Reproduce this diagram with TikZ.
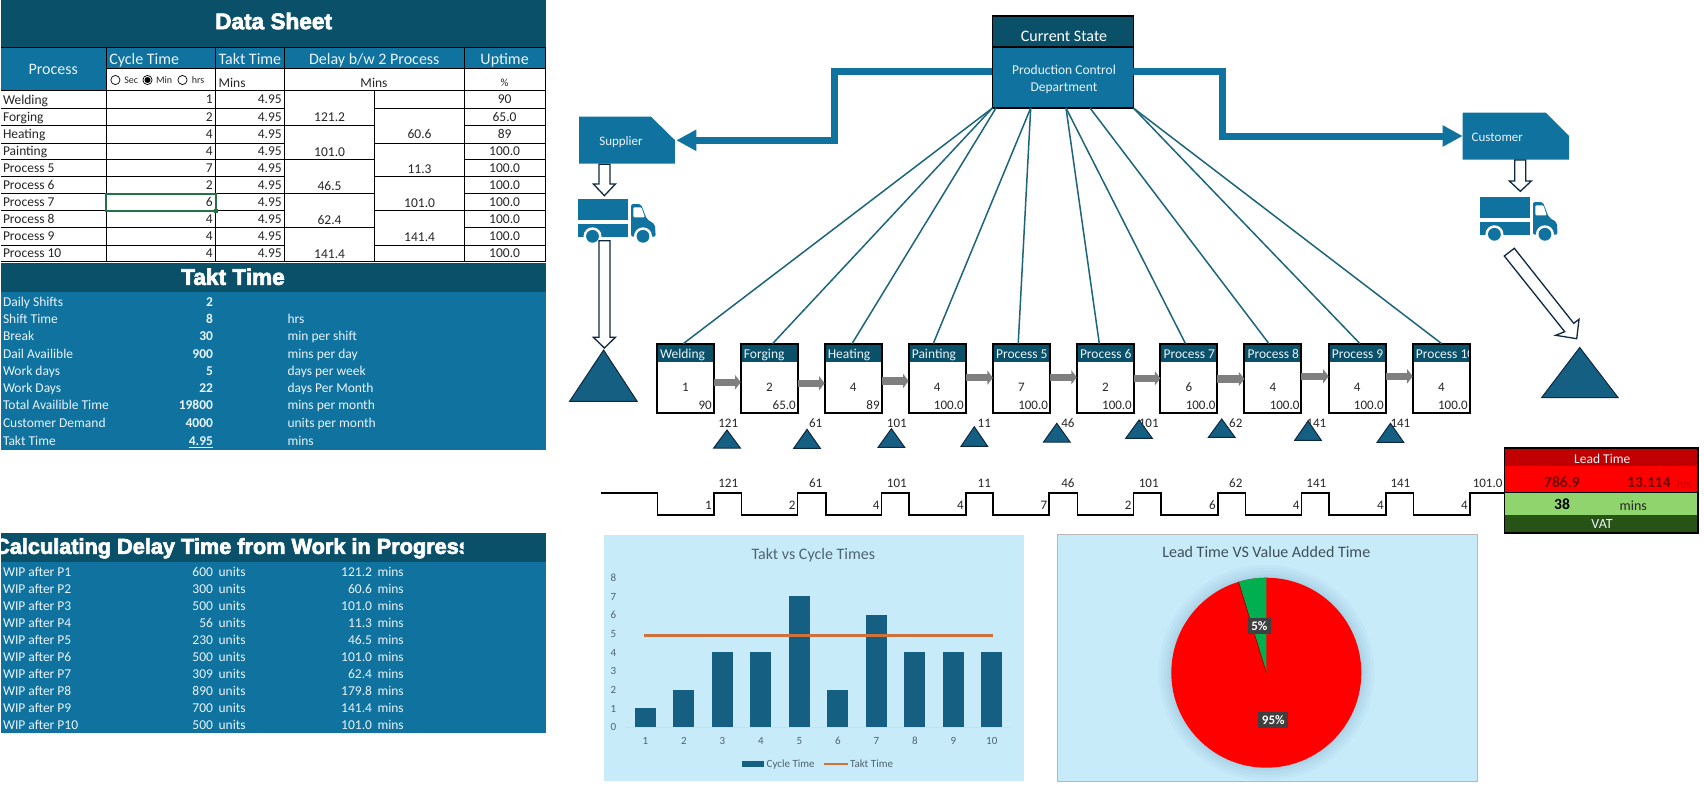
\documentclass[tikz,border=0pt]{standalone}
\usepackage{fontspec}
\setmainfont{Carlito}
\newfontfamily\heavy{Liberation Sans}[BoldFeatures={FakeBold=3}]
\usetikzlibrary{arrows.meta}
\definecolor{bandD}{HTML}{0B5069}
\definecolor{midB}{HTML}{0F729F}
\definecolor{triB}{HTML}{156082}
\definecolor{navy}{HTML}{0E2841}
\definecolor{chartBG}{HTML}{C8EBFA}
\definecolor{ink}{HTML}{262626}
\definecolor{pale}{HTML}{EAF4F8}
\definecolor{axisTxt}{HTML}{4F6470}
\definecolor{orangeL}{HTML}{D0703A}
\definecolor{grayA}{HTML}{7F7F7F}
\definecolor{leadD}{HTML}{C00000}
\definecolor{leadG}{HTML}{8FD46C}
\definecolor{leadK}{HTML}{275317}
\definecolor{fanL}{HTML}{1D6579}
\definecolor{selG}{HTML}{217346}
\definecolor{pieG}{HTML}{00B050}
\tikzset{
  txt/.style={inner sep=0pt,outer sep=0pt,yshift=-1pt,execute at begin node={\rule[-.18em]{0pt}{.86em}}},
  cell/.style={txt,font=\fontsize{13.5}{14}\selectfont,text=ink},
  hdr/.style={txt,font=\fontsize{16}{17}\selectfont,text=pale},
  wip/.style={txt,font=\fontsize{13.5}{14}\selectfont,text=pale},
  bandT/.style={txt,text=white,font=\fontsize{22.6}{24}\selectfont\heavy\bfseries},
  pboxn/.style={inner sep=0pt,outer sep=0pt,fill=white,minimum width=57pt,minimum height=69.3pt},
  hollow/.style={draw=navy,fill=white,line width=1.3pt,line join=miter},
  inv/.style={draw=navy,fill=triB,line width=1pt,line join=miter},
  thick conn/.style={line width=7pt,draw=midB,line join=miter,-{Triangle[length=20pt,width=20pt]}},
  flow/.style={line width=7.5pt,draw=grayA,-{Triangle[length=5.5pt,width=14pt]}},
  fan/.style={line width=1.5pt,draw=fanL},
  num/.style={txt,font=\fontsize{13}{14}\selectfont,text=ink},
  axl/.style={txt,font=\fontsize{11}{12}\selectfont,text=axisTxt},
  pielab/.style={inner sep=3.5pt,fill=black!75,text=white,font=\fontsize{13}{14}\selectfont\bfseries},
}
\newcommand{\trucksym}[2]{%
  \begin{scope}[shift={(#1,#2)}]
    \fill[midB] (0,0) rectangle (49.7,21);
    \fill[midB] (0,24.7) rectangle (49.7,37.4);
    \fill[midB,rounded corners=2pt] (52.7,4.7) -- (62.5,4.7) -- (68.5,20) -- (76.5,25) -- (77.3,37.4) -- (52.7,37.4) -- cycle;
    \fill[white,rounded corners=1pt] (55,8) -- (63,8) -- (66.5,18) -- (55,18) -- cycle;
    \fill[white] (14.1,37) circle[radius=9pt];
    \fill[white] (64.6,37) circle[radius=9pt];
    \fill[midB] (14.1,37) circle[radius=6.4pt];
    \fill[midB] (64.6,37) circle[radius=6.4pt];
  \end{scope}}
\newcommand{\vhollow}[4]{% x, ytop, yheadstart, ytip
  \draw[hollow] (#1-5.5,#2) -- (#1+5.5,#2) -- (#1+5.5,#3) -- (#1+11,#3) -- (#1,#4) -- (#1-11,#3) -- (#1-5.5,#3) -- cycle;}
\begin{document}
\begin{tikzpicture}[x=1pt,y=-1pt]
\useasboundingbox (0,0) rectangle (1704,790);
\fill[white] (0,0) rectangle (1704,790);

%% ---------- data sheet ----------
\fill[bandD] (1,0) rectangle (546,47.3);
\node[bandT] (dstitle) at (273.6,22) {Data Sheet};
\fill[midB] (1,47.3) rectangle (546,68.7);
\fill[midB] (1,68.7) rectangle (106.5,90.7);
\node[hdr,anchor=center] (hProc) at (53.2,69.7) {Process};
\node[hdr,anchor=west] (hCyc) at (109.3,59) {Cycle Time};
\node[hdr,anchor=west] (hTak) at (218.6,59) {Takt Time};
\node[hdr] (hDel) at (374.3,59) {Delay b/w 2 Process};
\node[hdr] (hUp) at (504.6,59) {Uptime};
\draw[black,line width=.7pt] (115.4,80) circle[radius=4.6pt];
\draw[black,line width=.7pt,fill=white] (147.5,80) circle[radius=4.6pt];
\fill[black] (147.5,80) circle[radius=3pt];
\draw[black,line width=.7pt] (182.5,80) circle[radius=4.6pt];
\node[txt,anchor=west,font=\fontsize{10}{11}\selectfont,text=ink] (rS) at (124.3,79.5) {Sec};
\node[txt,anchor=west,font=\fontsize{10}{11}\selectfont,text=ink] (rM) at (156,79.5) {Min};
\node[txt,anchor=west,font=\fontsize{10}{11}\selectfont,text=ink] (rH) at (191.8,79.5) {hrs};
\node[cell,anchor=west] (uT) at (218.6,82.7) {Mins};
\node[cell] (uD) at (374,82.7) {Mins};
\node[cell,font=\fontsize{11}{12}\selectfont] (uU) at (504.6,82.7) {\%};
\foreach \nm/\ct/\up/\yy [count=\i] in {
  Welding/1/90/99.6, Forging/2/65.0/117.1, Heating/4/89/134.4, Painting/4/100.0/151.5,
  Process 5/7/100.0/168.3, Process 6/2/100.0/185.3, Process 7/6/100.0/202.3,
  Process 8/4/100.0/219.3, Process 9/4/100.0/236.5, Process 10/4/100.0/253.5}{
  \node[cell,anchor=west] (rowN\i) at (3,\yy) {\nm};
  \node[cell,anchor=east] (rowC\i) at (212.8,\yy) {\ct};
  \node[cell,anchor=east] (rowT\i) at (281.8,\yy) {4.95};
  \node[cell] (rowU\i) at (504.6,\yy) {\up};
}
\foreach \v/\yy [count=\i] in {121.2/117.3,101.0/151.7,46.5/185.7,62.4/219.7,141.4/253.7}
  \node[cell] (delA\i) at (329.6,\yy) {\v};
\foreach \v/\yy [count=\i] in {60.6/134.3,11.3/168.7,101.0/202.7,141.4/236.7}
  \node[cell] (delB\i) at (419.6,\yy) {\v};
\begin{scope}[black,line width=1pt]
  \foreach \yy in {90.7,108.3,125.7,143,159.7,176.7,193.7,210.7,227.7,245,261.7}{
    \draw (1,\yy) -- (284.6,\yy);
    \draw (464.3,\yy) -- (545.7,\yy);}
  \foreach \yy in {90.7,125.7,159.7,193.7,227.7,261.7}
    \draw (284.6,\yy) -- (374,\yy);
  \foreach \yy in {90.7,108.3,143,176.7,210.7,245,261.7}
    \draw (374,\yy) -- (464.3,\yy);
  \draw (1,47.3) -- (546,47.3);
  \draw (106.5,68.7) -- (546,68.7);
  \foreach \xx in {106.5,215.7,284.6,464.3,545.7}
    \draw (\xx,47.3) -- (\xx,261.7);
  \draw (374,90.7) -- (374,261.7);
\end{scope}
\draw[selG,line width=2pt] (105.7,193.7) rectangle (216,210.7);
\fill[selG] (214,208.7) rectangle (218,212.7);

%% ---------- takt time ----------
\fill[midB] (1,292) rectangle (546,450);
\fill[bandD] (1,263.3) rectangle (546,292);
\node[bandT] (tktitle) at (233,277.7) {Takt Time};
\foreach \a/\b/\c/\yy [count=\i] in {
  Daily Shifts/2//301.7, Shift Time/8/hrs/319, Break/30/min per shift/336,
  Dail Availible/900/mins per day/353.7, Work days/5/days per week/371,
  Work Days/22/days Per Month/388, Total Availible Time/19800/mins per month/405,
  Customer Demand/4000/units per month/422.7}{
  \node[wip,anchor=west] (tkA\i) at (3,\yy) {\a};
  \node[wip,anchor=east,font=\fontsize{13.5}{14}\selectfont\bfseries] (tkB\i) at (213,\yy) {\b};
  \node[wip,anchor=west] (tkC\i) at (287.5,\yy) {\c};
}
\node[wip,anchor=west] (tkA9) at (3,441) {Takt Time};
\node[wip,anchor=east,font=\fontsize{13.5}{14}\selectfont\bfseries] (tkB9) at (213,441) {\underline{4.95}};
\node[wip,anchor=west] (tkC9) at (287.5,441) {mins};

%% ---------- WIP ----------
\fill[midB] (1,561.7) rectangle (546,732.7);
\fill[bandD] (1,533.3) rectangle (546,561.7);
\begin{scope}
  \clip (1,533.3) rectangle (463.6,561.7);
  \node[bandT,font=\fontsize{21.7}{24}\selectfont\heavy\bfseries] (wiptitle) at (232.5,547.3) {Calculating Delay Time from Work in Progress};
\end{scope}
\foreach \a/\b/\c/\yy [count=\i] in {
  P1/600/121.2/571.7, P2/300/60.6/589, P3/500/101.0/606, P4/56/11.3/623, P5/230/46.5/640,
  P6/500/101.0/657, P7/309/62.4/674, P8/890/179.8/691, P9/700/141.4/708, P10/500/101.0/725}{
  \node[wip,anchor=west] (wA\i) at (3,\yy) {WIP after \a};
  \node[wip,anchor=east] (wB\i) at (213,\yy) {\b};
  \node[wip,anchor=west] (wC\i) at (218.6,\yy) {units};
  \node[wip,anchor=east] (wD\i) at (372,\yy) {\c};
  \node[wip,anchor=west] (wE\i) at (377.5,\yy) {mins};
}

%% ---------- control box, supplier, customer ----------
\node[inner sep=0pt,outer sep=0pt,minimum width=141pt,minimum height=91.7pt,fill=midB] (pc) at (1062.9,61.85) {};
\fill[bandD] (pc.north west) rectangle (1133.4,46.7);
\draw[black,line width=1.8pt] (pc.north west) rectangle (pc.south east);
\draw[black,line width=1.8pt] (992.4,46.7) -- (1133.4,46.7);
\node[txt,text=white,font=\fontsize{16}{17}\selectfont] (pcT) at (1064,36.7) {Current State};
\node[txt,text=pale,font=\fontsize{13.5}{14}\selectfont] (pcA) at (1064,70) {Production Control};
\node[txt,text=pale,font=\fontsize{13.5}{14}\selectfont] (pcB) at (1064,87) {Department};

\fill[midB] (579.1,116.7) -- (651,116.7) -- (674.8,140) -- (674.8,163.7) -- (579.1,163.7) -- cycle;
\node[txt,text=pale,font=\fontsize{13}{14}\selectfont] (sup) at (621,140.7) {Supplier};
\coordinate (supTip) at (676.3,140.3);
\fill[midB] (1462.7,112.7) -- (1545.7,112.7) -- (1569,136) -- (1569,159.7) -- (1462.7,159.7) -- cycle;
\node[txt,anchor=west,text=pale,font=\fontsize{13}{14}\selectfont] (cus) at (1471.7,137) {Customer};
\coordinate (cusTip) at (1462.7,136);

\draw[thick conn] (pc.west |- 0,71.3) -- (834,71.3) -- (834,140.3) -- (supTip);
\draw[thick conn] (pc.east |- 0,71.7) -- (1222.3,71.7) -- (1222.3,136) -- (cusTip);

%% ---------- trucks, hollow arrows, big triangles ----------
\trucksym{578.4}{199.3}
\trucksym{1480.3}{197.3}
\vhollow{604.4}{164.3}{184}{195.7}
\vhollow{1520.3}{160}{181}{191.3}
\vhollow{604.4}{240.7}{337.3}{348}
\draw[hollow] (1504.3,256) -- (1514.3,248.3) -- (1573.7,323.3) -- (1579,319.3) -- (1576.7,338.7) -- (1555.7,335.3) -- (1564.7,331.7) -- cycle;
\draw[inv] (569.6,401.3) -- (603.6,350) -- (637.1,401.3) -- cycle;
\draw[inv] (1541.7,397.5) -- (1579.7,347.5) -- (1618,397.5) -- cycle;

%% ---------- process boxes ----------
\foreach \nm/\ct/\up/\xl/\ft [count=\i] in {
  Welding/1/90/656.8/683.2, Forging/2/65.0/740.7/772.5, Heating/4/89/824.6/852,
  Painting/4/100.0/908.6/933.2, Process 5/7/100.0/992.9/1018.2, Process 6/2/100.0/1076.8/1099.3,
  Process 7/6/100.0/1160.4/1185.5, Process 8/4/100.0/1244.4/1269, Process 9/4/100.0/1328.6/1360,
  Process 10/4/100.0/1412.7/1441.7}{
  \node[pboxn] (p\i) at (\xl+28.5,378.35) {};
  \coordinate (top\i) at (\ft,343.7);
  \begin{scope}
    \clip (\xl,343.7) rectangle (\xl+57,413);
    \fill[bandD] (\xl,343.7) rectangle (\xl+57,362);
    \node[txt,anchor=west,text=pale,font=\fontsize{13.5}{14}\selectfont] (ph\i) at (\xl+3.2,354) {\nm};
  \end{scope}
  \draw[black,line width=2pt] (p\i.south west) rectangle (p\i.north east);
  \node[num] (pc\i) at (\xl+28.6,387.7) {\ct};
  \node[num,anchor=east] (pu\i) at (\xl+55,405) {\up};
}

%% ---------- information fan ----------
\coordinate (fA) at (992.5,108);
\coordinate (fB) at (996,108);
\coordinate (fC) at (1030.7,108);
\coordinate (fD) at (1066,108);
\coordinate (fE) at (1090,108);
\coordinate (fF) at (1133.3,108);
\foreach \s/\i in {fA/1,fA/2,fB/3,fC/4,fC/5,fD/6,fD/7,fE/8,fF/9,fF/10}
  \draw[fan] (\s) -- (top\i);

%% ---------- flow arrows ----------
\foreach \a/\b/\yy in {1/2/382.3,2/3/383.3,3/4/381,4/5/377.7,5/6/377.3,6/7/378.3,7/8/379,8/9/376.3,9/10/376.3}
  \draw[flow] (p\a.east |- 0,\yy) -- (p\b.west |- 0,\yy);

%% ---------- inventory triangles ----------
\foreach \cx/\ap/\ba/\lx/\lb [count=\i] in {
  727/430/448/728.2/121, 807/429.3/448.3/815.7/61, 891.4/428.7/447.3/896.8/101,
  974.3/426.7/446.3/984.3/11, 1056.8/423.3/442/1067.9/46, 1139/420/438.3/1148.7/101,
  1221.7/419/437.3/1235.8/62, 1308/421/440.3/1316.3/141, 1390.4/423.3/442.3/1400.4/141}{
  \node[num] (il\i) at (\lx,423) {\lb};
  \draw[inv] (\cx-13.3,\ba) -- (\cx,\ap) -- (\cx+13.3,\ba) -- cycle;
}

%% ---------- time line ----------
\coordinate (tlS) at (601,492.7);
\coordinate (tlE) at (1504.4,492.7);
\draw[black,line width=1.8pt,line join=miter] (tlS) -- (657.5,492.7) -- (657.5,514.7) -- (713.6,514.7) -- (713.6,492.7)
  -- (741.4,492.7) -- (741.4,514.7) -- (797.5,514.7) -- (797.5,492.7)
  -- (825.7,492.7) -- (825.7,514.7) -- (881.4,514.7) -- (881.4,492.7)
  -- (909.3,492.7) -- (909.3,514.7) -- (965.7,514.7) -- (965.7,492.7)
  -- (993.2,492.7) -- (993.2,514.7) -- (1049.3,514.7) -- (1049.3,492.7)
  -- (1077.5,492.7) -- (1077.5,514.7) -- (1133.4,514.7) -- (1133.4,492.7)
  -- (1161.3,492.7) -- (1161.3,514.7) -- (1217.6,514.7) -- (1217.6,492.7)
  -- (1245.5,492.7) -- (1245.5,514.7) -- (1301.4,514.7) -- (1301.4,492.7)
  -- (1329.3,492.7) -- (1329.3,514.7) -- (1385.6,514.7) -- (1385.6,492.7)
  -- (1413.5,492.7) -- (1413.5,514.7) -- (1469.7,514.7) -- (1469.7,492.7) -- (tlE);
\foreach \x/\t [count=\i] in {728.2/121,815.7/61,896.8/101,984.3/11,1067.9/46,1148.7/101,1235.8/62,1316.3/141,1400.4/141,1487.6/101.0}
  \node[num] (tlT\i) at (\x,483.7) {\t};
\foreach \x/\t [count=\i] in {713.6/1,797.5/2,881.4/4,965.7/4,1049.3/7,1133.4/2,1217.6/6,1301.4/4,1385.6/4,1469.7/4}
  \node[num,anchor=east] (tlB\i) at (\x-2,505.3) {\t};

%% ---------- lead time box ----------
\fill[leadD] (1504.4,448.3) rectangle (1697.7,466);
\fill[red] (1504.4,466) rectangle (1697.7,492.7);
\fill[leadG] (1504.4,492.7) rectangle (1697.7,515);
\fill[leadK] (1504.4,515) rectangle (1697.7,533);
\draw[black,line width=1.8pt] (1504.4,448.3) rectangle (1697.7,533);
\draw[black,line width=1.5pt] (1504.4,492.7) -- (1697.7,492.7);
\node[txt,text=pale,font=\fontsize{13.5}{14}\selectfont] (lt1) at (1602.3,459) {Lead Time};
\node[txt,text=leadD!55!black,font=\fontsize{15.5}{16}\selectfont\bfseries] (lt2) at (1562,483) {786.9};
\node[txt,text=leadD!55!black,font=\fontsize{15.5}{16}\selectfont\bfseries] (lt3) at (1648.9,483) {13.114};
\node[txt,text=leadD,font=\fontsize{12}{13}\selectfont] (lt4) at (1684,484) {hrs};
\node[txt,text=black,font=\fontsize{15.5}{16}\selectfont\bfseries] (lt5) at (1562,504.7) {38};
\node[txt,text=ink,font=\fontsize{14}{15}\selectfont] (lt6) at (1633.2,506) {mins};
\node[txt,text=pale,font=\fontsize{14}{15}\selectfont] (lt7) at (1602,524.3) {VAT};

%% ---------- bar chart ----------
\fill[chartBG] (604,535) rectangle (1024,780.7);
\node[txt,text=axisTxt,font=\fontsize{16}{17}\selectfont] (c1t) at (813.3,554) {Takt vs Cycle Times};
\foreach \v in {0,...,8}
  \node[axl] (ya\v) at (613.3,727-\v*18.67) {\v};
\draw[black!15,line width=.7pt] (626,727) -- (1009.3,727);
\foreach \v [count=\i] in {1,2,4,4,7,2,6,4,4,4}{
  \fill[triB] (645.3+\i*38.5-38.5-10.5,727) rectangle (645.3+\i*38.5-38.5+10.5,727-\v*18.67);
  \node[axl] (xa\i) at (645.3+\i*38.5-38.5,740.7) {\i};
}
\draw[orangeL,line width=2.7pt] (644,635.3) -- (992.7,635.3);
\fill[triB] (742,760.7) rectangle (764,767);
\node[axl,anchor=west] (lg1) at (766.7,763.7) {Cycle Time};
\draw[orangeL,line width=2.7pt] (824.3,764) -- (848.3,764);
\node[axl,anchor=west] (lg2) at (850,763.7) {Takt Time};

%% ---------- pie chart ----------
\fill[chartBG] (1057.3,534.3) rectangle (1477.3,781);
\draw[black!28,line width=.8pt] (1057.3,534.3) rectangle (1477.3,781);
\node[txt,text=axisTxt!80!black,font=\fontsize{16}{17}\selectfont] (c2t) at (1266.3,552.7) {Lead Time VS Value Added Time};
\foreach \r in {108,105,102,99,97}
  \fill[triB,opacity=.03] (1266.3,672.7) circle[radius=\r pt];
\fill[red] (1266.3,672.7) circle[radius=95pt];
\fill[pieG] (1266.3,672.7) -- (1266.3,577.7) arc[start angle=90,end angle=107,radius=95pt] -- cycle;
\draw[red!55!black,line width=.6pt] (1266.3,672.7) -- (1238.5,581.85);
\node[pielab] (pl5) at (1259.3,626) {5\%};
\node[pielab] (pl95) at (1273.3,720) {95\%};
\end{tikzpicture}
\end{document}
